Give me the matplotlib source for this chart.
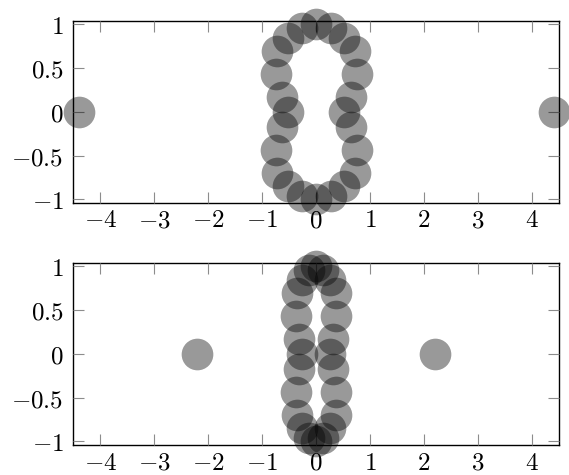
import numpy as np
import matplotlib
matplotlib.use('Agg')
import matplotlib.pyplot as plt
from matplotlib.ticker import FuncFormatter

plt.rcParams['mathtext.fontset'] = 'cm'

# right half of the closed curve, top to bottom (left half is mirrored)
half_x = [0.0, 0.27, 0.52, 0.72, 0.75, 0.64, 0.52, 0.64, 0.75, 0.72, 0.52, 0.27, 0.0]
half_y = [1.0, 0.96, 0.846, 0.70, 0.435, 0.17, 0.0, -0.17, -0.435, -0.70, -0.846, -0.96, -1.0]
# the two stray points on the x axis
outlier_x = [-4.4, 4.4]
outlier_y = [0.0, 0.0]

# second panel squeezes x by this factor
squeeze = 0.5

xticks = [-4, -3, -2, -1, 0, 1, 2, 3, 4]
yticks = [-1, -0.5, 0, 0.5, 1]


def build_points(scale):
    hx = np.array(half_x)
    hy = np.array(half_y)
    # mirror the inner points to the left side
    xs = np.concatenate([hx, -hx[1:-1], np.array(outlier_x)]) * scale
    ys = np.concatenate([hy, hy[1:-1], np.array(outlier_y)])
    return xs, ys


def fmt(v, pos):
    if v == int(v):
        s = '%d' % v
    else:
        s = '%g' % v
    return '$' + s.replace('-', '-') + '$'


def style(ax):
    ax.set_xlim(-4.5, 4.5)
    ax.set_ylim(-1.04, 1.04)
    ax.set_xticks(xticks)
    ax.set_yticks(yticks)
    ax.xaxis.set_major_formatter(FuncFormatter(fmt))
    ax.yaxis.set_major_formatter(FuncFormatter(fmt))
    ax.tick_params(direction='in', length=8, width=0.8, color='0.55',
                   top=True, right=True, labelsize=18)
    ax.tick_params(axis='x', pad=4)
    ax.tick_params(axis='y', pad=7)
    for sp in ax.spines.values():
        sp.set_linewidth(1.0)
        sp.set_color('black')
        sp.set_zorder(0.5)


fig = plt.figure(figsize=(5.69, 4.75), dpi=100)
ax1 = fig.add_axes([0.1288, 0.5733, 0.8536, 0.3825])
ax2 = fig.add_axes([0.1288, 0.0632, 0.8536, 0.3832])

for ax, scale in [(ax1, 1.0), (ax2, squeeze)]:
    xs, ys = build_points(scale)
    ax.scatter(xs, ys, s=520, color='black', alpha=0.4, linewidths=0,
               clip_on=False, zorder=3)
    style(ax)

fig.savefig('out.png', dpi=100)
